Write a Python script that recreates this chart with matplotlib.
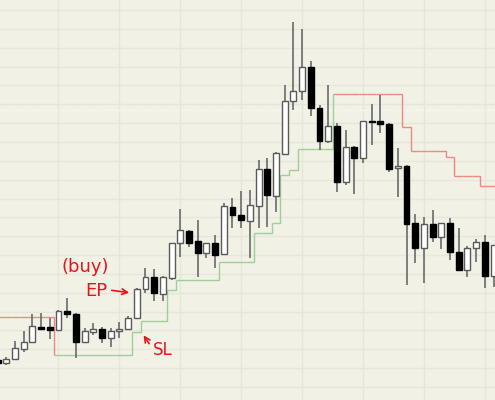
import numpy as np
import matplotlib
matplotlib.use("Agg")
import matplotlib.pyplot as plt
from matplotlib.collections import LineCollection

# ---- data (chart units) ----
opens  = [40, 37, 41, 51, 58, 73, 73, 70, 89, 86, 58, 68, 71, 62, 69, 71, 82, 111, 123, 106,
          122, 157, 169, 159, 147, 157, 146, 193, 185, 179, 194, 231, 204, 246, 299, 309, 333, 292, 259, 274,
          218, 253, 242, 279, 279, 276, 232, 234, 177, 152, 176, 163, 177, 148, 130, 152, 158, 124]
highs  = [42, 43, 59, 69, 86, 87, 82, 90, 102, 87, 72, 77, 73, 72, 78, 84, 112, 132, 131, 124,
          157, 191, 170, 180, 157, 165, 197, 202, 209, 210, 240, 242, 248, 315, 378, 371, 339, 295, 315, 277,
          270, 254, 279, 296, 305, 277, 252, 235, 186, 183, 190, 177, 182, 172, 154, 161, 165, 155]
lows   = [35, 35, 40, 48, 58, 70, 61, 69, 82, 42, 57, 65, 57, 53, 62, 70, 81, 107, 99, 99,
          120, 143, 153, 123, 142, 132, 146, 172, 172, 142, 172, 173, 188, 246, 290, 300, 284, 250, 257, 208,
          215, 206, 237, 255, 267, 228, 203, 115, 137, 117, 158, 151, 140, 130, 123, 138, 112, 113]
closes = [37, 41, 52, 58, 74, 71.5, 70, 89, 86, 58, 69, 71, 62, 69, 71, 82, 111, 123, 107, 123,
          157, 170, 157, 147, 157, 145, 194, 185, 180, 195, 231, 205, 247, 299, 309, 333, 292, 259, 274, 218,
          253, 242, 279, 278, 276, 231, 234, 176, 152, 176, 163, 177, 148, 130, 152, 158, 124, 155]

# trailing stop level per bar and its side
stop = [83]*7 + [45]*9 + [68] + [79]*3 + [110] + [120]*5 + [138]*4 + [167]*2 + [177] + [225] + [230] \
       + [251]*4 + [306.5]*8 + [273.5] + [249]*4 + [243] + [224]*3 + [214.5]*2
side = ["short"]*7 + ["long"]*32 + ["short"]*19

n = len(opens)
x = np.arange(n)

BG = "#f2f1e6"
GRID = "#e7e6db"

fig = plt.figure(figsize=(4.95, 4.0), dpi=100)
fig.patch.set_facecolor(BG)
ax = fig.add_axes([0, 0, 1, 1])
ax.set_facecolor(BG)

ax.set_xlim(0.28, 57.17)
ax.set_ylim(0, 400)

# grid
for gy in np.arange(390, 0, -18.85):
    ax.axhline(gy, color=GRID, lw=1.0, zorder=0)
for gx in range(7, n, 7):
    ax.axvline(gx, color=GRID, lw=1.0, zorder=0)

# current price dotted line
ax.axhline(290, color="white", lw=0.9, ls=(0, (1, 1.5)), zorder=0.5)

# trailing stop
segs_r, segs_g = [], []
for i in range(n):
    nxt = stop[i + 1] if i + 1 < n else stop[i]
    seg = [(i - 0.5, stop[i]), (i + 0.5, stop[i]), (i + 0.5, nxt)]
    (segs_r if side[i] == "short" else segs_g).append(seg)
ax.add_collection(LineCollection(segs_r, colors="#ec8a80", linewidths=1.0, zorder=1))
ax.add_collection(LineCollection(segs_g, colors="#9fcf95", linewidths=1.0, zorder=1))

# candles
o = np.array(opens, float); c = np.array(closes, float)
h = np.array(highs, float); l = np.array(lows, float)
up = c >= o
ax.vlines(x, l, h, color="#6a6a6a", lw=1.2, zorder=2)
bot = np.minimum(o, c)
ht = np.maximum(np.abs(c - o), 1.2)
ax.bar(x[up], ht[up], bottom=bot[up], width=0.68, color="white", edgecolor="#5a5a5a",
       linewidth=1.0, zorder=3)
ax.bar(x[~up], ht[~up], bottom=bot[~up], width=0.68, color="black", edgecolor="black",
       linewidth=1.0, zorder=3)

# annotations
red = "#e8141c"
ax.text(10.05, 133, "(buy)", color=red, fontsize=13, ha="center", va="center", zorder=5)
ax.text(11.4, 109, "EP", color=red, fontsize=13, ha="center", va="center", zorder=5)
ax.annotate("", xy=(15.45, 107), xytext=(12.8, 110),
            arrowprops=dict(arrowstyle="->", color=red, lw=1.2), zorder=5)
ax.text(19.0, 50, "SL", color=red, fontsize=12, ha="center", va="center", zorder=5)
ax.annotate("", xy=(16.6, 67), xytext=(17.6, 54),
            arrowprops=dict(arrowstyle="->", color=red, lw=1.2), zorder=5)

ax.axis("off")
fig.savefig("out.png", dpi=100, facecolor=BG)
